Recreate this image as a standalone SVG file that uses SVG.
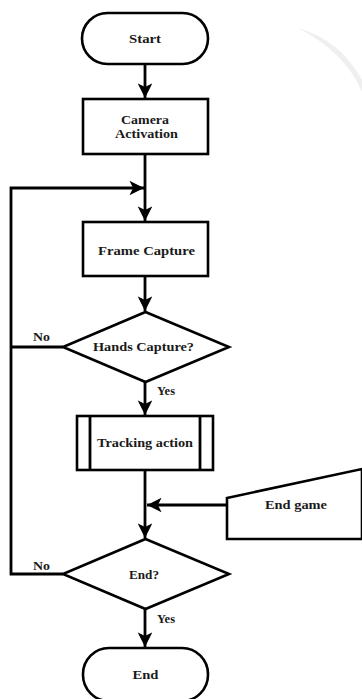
<svg xmlns="http://www.w3.org/2000/svg" width="362" height="699" viewBox="0 0 362 699">
<defs>
<style>
.s{fill:#fff;stroke:#000;stroke-width:2.6}
.c{fill:none;stroke:#000;stroke-width:2.8}
.t{font-family:"Liberation Serif","Times New Roman",serif;font-weight:bold;font-size:12px;fill:#1a1a1a;text-anchor:middle}
.l{font-family:"Liberation Serif","Times New Roman",serif;font-weight:bold;font-size:12px;fill:#1a1a1a}
</style>
<marker id="ah" viewBox="0 0 10 10" refX="10" refY="5" markerWidth="5.2" markerHeight="5.2" orient="auto" markerUnits="strokeWidth">
<path d="M0,0 L10,5 L0,10 L2.5,5 Z" fill="#000"/>
</marker>
</defs>
<rect width="362" height="699" fill="#fff"/>
<path d="M298,28 Q340,40 362,80 L362,92 Q345,52 298,28 Z" fill="#efefef"/>
<g id="connectors">
<line class="c" x1="145" y1="64" x2="145" y2="98" marker-end="url(#ah)"/>
<line class="c" x1="145" y1="154" x2="145" y2="221" marker-end="url(#ah)"/>
<polyline class="c" points="63,574 11,574 11,188 144,188" marker-end="url(#ah)"/>
<line class="c" x1="11" y1="347" x2="63" y2="347"/>
<line class="c" x1="145" y1="276" x2="145" y2="311" marker-end="url(#ah)"/>
<line class="c" x1="145" y1="382" x2="145" y2="415" marker-end="url(#ah)"/>
<line class="c" x1="145" y1="470" x2="145" y2="538" marker-end="url(#ah)"/>
<line class="c" x1="227" y1="505" x2="147" y2="505" marker-end="url(#ah)"/>
<line class="c" x1="145" y1="609" x2="145" y2="647" marker-end="url(#ah)"/>
<text class="l" x="33" y="341" textLength="17" lengthAdjust="spacingAndGlyphs">No</text>
<text class="l" x="157" y="395" textLength="18" lengthAdjust="spacingAndGlyphs">Yes</text>
<text class="l" x="33" y="570" textLength="17" lengthAdjust="spacingAndGlyphs">No</text>
<text class="l" x="157" y="623" textLength="18" lengthAdjust="spacingAndGlyphs">Yes</text>
</g>
<g id="start">
<rect class="s" x="82" y="13" width="126" height="51" rx="25.5"/>
<text class="t" x="145" y="43" textLength="32" lengthAdjust="spacingAndGlyphs">Start</text>
</g>
<g id="camera">
<rect class="s" x="83" y="99" width="125" height="55"/>
<text class="t" x="145" y="124" textLength="48" lengthAdjust="spacingAndGlyphs">Camera</text>
<text class="t" x="146.5" y="138" textLength="63" lengthAdjust="spacingAndGlyphs">Activation</text>
</g>
<g id="frame">
<rect class="s" x="83" y="222" width="125" height="54"/>
<text class="t" x="146.5" y="255" textLength="97" lengthAdjust="spacingAndGlyphs">Frame Capture</text>
</g>
<g id="hands">
<polygon class="s" points="145.5,312 229,347 145.5,382 63,347"/>
<text class="t" x="143.5" y="351" textLength="101" lengthAdjust="spacingAndGlyphs">Hands Capture?</text>
</g>
<g id="tracking">
<rect class="s" x="77" y="416" width="136" height="54"/>
<line class="c" x1="90" y1="416" x2="90" y2="470"/>
<line class="c" x1="200" y1="416" x2="200" y2="470"/>
<text class="t" x="145" y="447" textLength="96" lengthAdjust="spacingAndGlyphs">Tracking action</text>
</g>
<g id="endgame">
<polygon class="s" points="227,498 362,469 362,539 227,539"/>
<text class="t" x="296" y="509" textLength="62" lengthAdjust="spacingAndGlyphs">End game</text>
</g>
<g id="endq">
<polygon class="s" points="145.5,539 229,574 145.5,609 63,574"/>
<text class="t" x="144" y="579" textLength="30" lengthAdjust="spacingAndGlyphs">End?</text>
</g>
<g id="end">
<rect class="s" x="83" y="648" width="125" height="53" rx="26"/>
<text class="t" x="145.5" y="679" textLength="26" lengthAdjust="spacingAndGlyphs">End</text>
</g>
</svg>
